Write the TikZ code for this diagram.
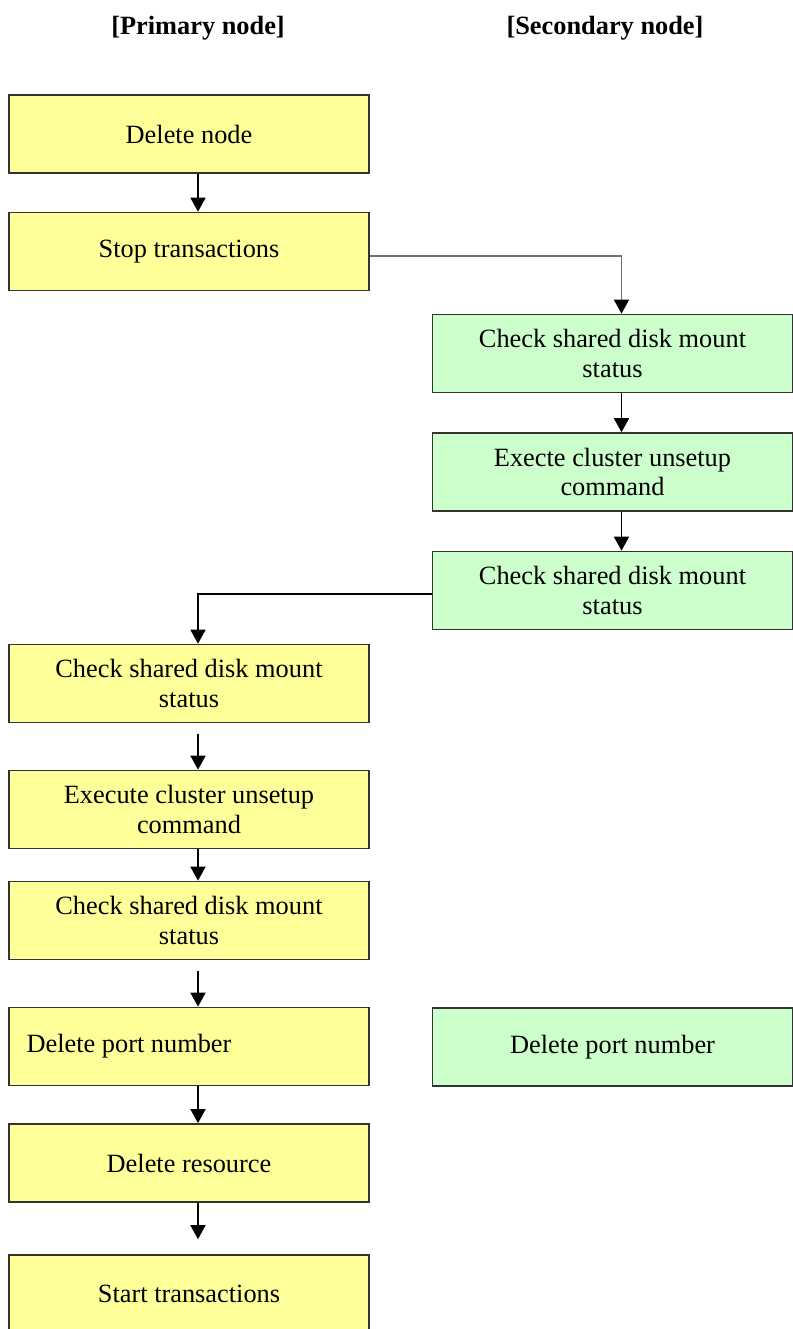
\documentclass[tikz,border=0pt]{standalone}
\usepackage{fontspec}
\setmainfont{Liberation Serif}
\usepackage{tikz}
\usetikzlibrary{positioning, calc, arrows.meta}

\definecolor{primfill}{HTML}{FFFF99}
\definecolor{secfill}{HTML}{CCFFCC}
\definecolor{boxline}{HTML}{333333}
\definecolor{greyline}{HTML}{707070}

\tikzset{
    stepbox/.style={draw=boxline, line width=0.95pt, minimum width=7.2cm, minimum height=1.56cm,
        inner sep=0pt, align=center, font=\fontsize{15}{17}\selectfont},
    prim/.style={stepbox, fill=primfill},
    sec/.style={stepbox, fill=secfill},
    arr/.style={line width=0.95pt, -{Triangle[width=0.3cm,length=0.28cm,color=black]}},
    head/.style={font=\fontsize{15}{17}\selectfont\bfseries}
}

\begin{document}
\begin{tikzpicture}[x=0.02cm, y=-0.02cm]
        \useasboundingbox (0,0) rectangle (793,1329);
        
        % Column headings
        \node[head] (hprim) at (198,28) {[Primary node]};
        \node[head] (hsec) at (605,28) {[Secondary node]};
        
        % Primary node steps
        \node[prim] (del) at (189,134) {Delete node};
        \node[prim] (stop) at (189,251.5) {Stop transactions};
        \node[prim] (lchka) at (189,683.5) {Check shared disk mount\\status};
        \node[prim] (lexe) at (189,809.5) {Execute cluster unsetup\\command};
        \node[prim] (lchkb) at (189,920.5) {Check shared disk mount\\status};
        \node[prim, text width=6.5cm, align=flush left] (lport) at (189,1046.5) {Delete port number};
        \node[prim] (lres) at (189,1163) {Delete resource};
        \node[prim] (start) at (189,1294) {Start transactions};
        
        % Secondary node steps
        \node[sec] (rchka) at (612.5,353.5) {Check shared disk mount\\status};
        \node[sec] (rexe) at (612.5,472) {Execte cluster unsetup\\command};
        \node[sec] (rchkb) at (612.5,590.5) {Check shared disk mount\\status};
        \node[sec] (rport) at (612.5,1047) {Delete port number};
        
        % Flow on the primary node
        \draw[arr] ([xshift=0.18cm]del.south) -- ([xshift=0.18cm]stop.north);
        \draw[arr] ([xshift=0.18cm, yshift=-0.22cm]lchka.south) -- ([xshift=0.18cm]lexe.north);
        \draw[arr] ([xshift=0.18cm]lexe.south) -- ([xshift=0.18cm]lchkb.north);
        \draw[arr] ([xshift=0.18cm, yshift=-0.22cm]lchkb.south) -- ([xshift=0.18cm]lport.north);
        \draw[arr] ([xshift=0.18cm]lport.south) -- ([xshift=0.18cm]lres.north);
        \draw[arr, shorten >=0.3cm] ([xshift=0.18cm]lres.south) -- ([xshift=0.18cm]start.north);
        
        % Flow on the secondary node
        \draw[arr, greyline] ([yshift=-0.09cm]stop.east) -| ([xshift=0.18cm]rchka.north);
        \draw[arr] ([xshift=0.18cm]rchka.south) -- ([xshift=0.18cm]rexe.north);
        \draw[arr] ([xshift=0.18cm]rexe.south) -- ([xshift=0.18cm]rchkb.north);
        \draw[arr] ([yshift=-0.07cm]rchkb.west) -| ([xshift=0.18cm]lchka.north);
        
    \end{tikzpicture}
\end{document}
